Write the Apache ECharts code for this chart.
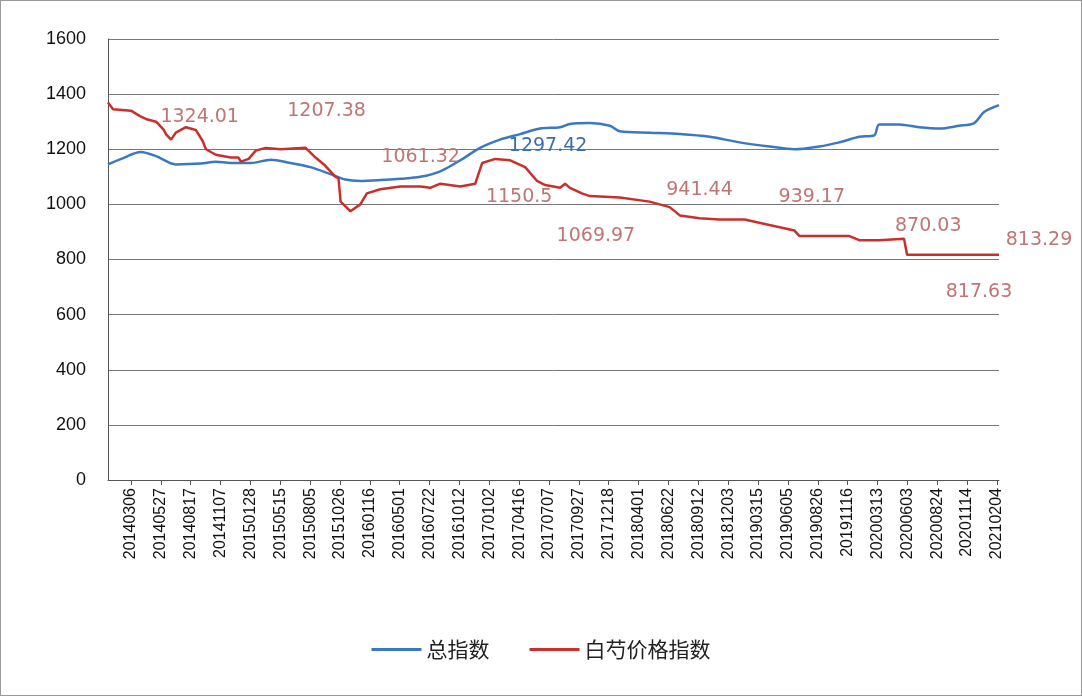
<!DOCTYPE html>
<html><head><meta charset="utf-8">
<script src="https://cdn.jsdelivr.net/npm/echarts@6/dist/echarts.min.js"></script>
<style>html,body{margin:0;background:#fff}#c{width:1082px;height:696px;box-sizing:border-box;border:1px solid #999}</style>
</head><body><div id="c"></div>
<script>
const tickLabels=['20140306','20140527','20140817','20141107','20150128','20150515','20150805','20151026','20160116','20160501','20160722','20161012','20170102','20170416','20170707','20170927','20171218','20180401','20180622','20180912','20181203','20190315','20190605','20190826','20191116','20200313','20200603','20200824','20201114','20210204'];
// [position in tick-label units, value]
const totalIndex=[[-0.77,1145],[-0.33,1165],[0.33,1190],[0.84,1175],[1.5,1145],[2.34,1148],[2.84,1155],[3.34,1150],[4.01,1150],[4.68,1162],[5.35,1150],[6.01,1135],[6.68,1110],[7.18,1090],[7.68,1085],[8.35,1088],[9.02,1093],[9.69,1100],[10.36,1120],[11.03,1160],[11.69,1205],[12.36,1235],[13.03,1255],[13.7,1275],[14.37,1280],[14.7,1292],[15.37,1295],[16.04,1285],[16.37,1265],[17.37,1260],[18.38,1255],[19.38,1245],[20.38,1225],[21.38,1210],[22.22,1200],[23.05,1210],[23.72,1225],[24.39,1245],[24.89,1250],[25.06,1290],[25.73,1290],[26.4,1280],[27.07,1275],[27.73,1285],[28.24,1295],[28.57,1335],[29.07,1360]];
const baishaoIndex=[[-0.77,1370],[-0.6,1345],[0,1340],[0.3,1320],[0.5,1310],[0.84,1300],[1.1,1270],[1.17,1255],[1.34,1235],[1.5,1260],[1.84,1280],[2.17,1270],[2.4,1230],[2.51,1200],[2.84,1180],[3.34,1170],[3.6,1170],[3.68,1155],[3.94,1165],[4.18,1195],[4.51,1205],[5.01,1200],[5.85,1205],[6.18,1170],[6.51,1140],[6.85,1100],[6.95,1095],[7.02,1010],[7.35,975],[7.68,1000],[7.9,1040],[8.35,1055],[9.02,1065],[9.69,1065],[10.02,1060],[10.36,1075],[11.03,1065],[11.53,1075],[11.76,1150],[12.2,1165],[12.7,1160],[13.2,1135],[13.6,1085],[13.87,1070],[14.37,1060],[14.54,1075],[14.7,1060],[15.1,1040],[15.37,1030],[16.37,1025],[17.37,1010],[18.04,990],[18.38,960],[19.04,950],[19.71,945],[20.55,945],[21.38,925],[22.22,905],[22.39,885],[24.06,885],[24.39,870],[25.06,870],[25.89,875],[25.99,817],[29.07,817]];
// [text, x, y, horizontal label shift]
const redNotes=[['1324.01',2.3,1318,0],['1207.38',6.55,1340,0],['1061.32',9.7,1170,0],['1150.5',13.0,1025,0],['1069.97',15.57,885,0],['941.44',19.04,1051,0],['939.17',22.8,1025,0],['870.03',26.7,921,0],['813.29',29.07,870,40],['817.63',28.4,683,0]];
const blueNotes=[['1297.42',13.97,1213,0]];
const ticks=tickLabels.map((_,i)=>i);
const mk=(arr,col)=>({silent:true,symbol:'circle',symbolSize:1,itemStyle:{color:'rgba(0,0,0,0)'},
  label:{show:true,color:col,fontSize:19,fontFamily:'DejaVu Sans',position:'inside'},
  data:arr.map(a=>({coord:[a[1],a[2]],value:a[0],label:{formatter:a[0],offset:[a[3],0]}}))});
const chart=echarts.init(document.getElementById('c'));
chart.setOption({
  animation:false,
  grid:{left:107,right:82,top:38,bottom:215},
  legend:{bottom:30,itemGap:40,itemWidth:50,itemHeight:3,icon:'rect',textStyle:{fontSize:21,color:'#222',fontFamily:'Noto Sans CJK SC'},data:['总指数','白芍价格指数']},
  xAxis:{type:'value',min:-0.77,max:29.07,splitLine:{show:false},
    axisLine:{lineStyle:{color:'#555'}},
    axisTick:{show:true,customValues:ticks,lineStyle:{color:'#555'}},
    axisLabel:{customValues:ticks,formatter:v=>tickLabels[Math.round(v)],rotate:90,fontSize:16,color:'#111',fontFamily:'Liberation Sans'}},
  yAxis:{type:'value',min:0,max:1600,interval:200,axisLine:{show:true,onZero:false,lineStyle:{color:'#555'}},axisTick:{show:false},
    splitLine:{lineStyle:{color:'#777'}},axisLabel:{fontSize:18,color:'#111',fontFamily:'Liberation Sans',margin:22,formatter:v=>String(v)}},
  series:[
    {name:'总指数',type:'line',data:totalIndex,showSymbol:false,smooth:0.3,lineStyle:{width:2.5,color:'#3a78c3'},itemStyle:{color:'#3a78c3'},markPoint:mk(blueNotes,'#3a6fae')},
    {name:'白芍价格指数',type:'line',data:baishaoIndex,showSymbol:false,lineStyle:{width:2.5,color:'#c8302e'},itemStyle:{color:'#c8302e'},markPoint:mk(redNotes,'#c07575')}
  ]
});
</script></body></html>
